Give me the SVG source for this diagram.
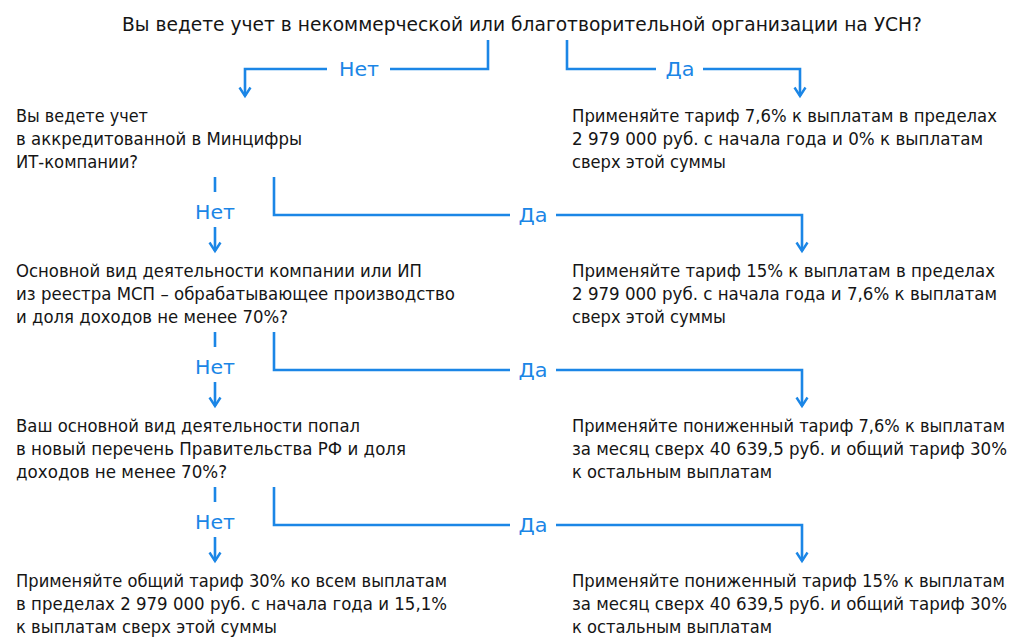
<svg xmlns="http://www.w3.org/2000/svg" width="1024" height="643" viewBox="0 0 1024 643">
<style>
  .t { font-family: "DejaVu Sans", "Noto Sans", sans-serif; font-size: 17px; fill: #151515; }
  .title { font-family: "DejaVu Sans", "Noto Sans", sans-serif; font-size: 19.5px; fill: #151515; }
  .lbl { font-family: "DejaVu Sans", "Noto Sans", sans-serif; font-size: 19px; fill: #1b86e6; text-anchor: middle; }
  .c { fill: none; stroke: #1b86e6; stroke-width: 2.6; stroke-linejoin: miter; stroke-linecap: butt; }
</style>
<defs>
  <marker id="arr" markerWidth="14" markerHeight="14" refX="11" refY="7" orient="auto" markerUnits="userSpaceOnUse" viewBox="0 0 14 14">
    <path d="M2.5,1.5 L11,7 L2.5,12.5" fill="none" stroke="#1b86e6" stroke-width="2.4"/>
  </marker>
</defs>
<rect width="1024" height="643" fill="#ffffff"/>

<g id="q0">
  <text class="title" x="122" y="31" textLength="800" lengthAdjust="spacingAndGlyphs">Вы ведете учет в некоммерческой или благотворительной организации на УСН?</text>
</g>

<g id="connectors">
  <!-- Level 1 -->
  <polyline class="c" points="488,40 488,69 390,69"/>
  <polyline class="c" points="327,69 245,69 245,96" marker-end="url(#arr)"/>
  <polyline class="c" points="567,40 567,69 656,69"/>
  <polyline class="c" points="703,69 800,69 800,96" marker-end="url(#arr)"/>
  <!-- Level 2 -->
  <line class="c" x1="215" y1="177" x2="215" y2="192"/>
  <line class="c" x1="215" y1="227" x2="215" y2="251" marker-end="url(#arr)"/>
  <polyline class="c" points="274,177 274,215 510,215"/>
  <polyline class="c" points="556,215 802,215 802,251" marker-end="url(#arr)"/>
  <!-- Level 3 -->
  <line class="c" x1="215" y1="332" x2="215" y2="347"/>
  <line class="c" x1="215" y1="382" x2="215" y2="406" marker-end="url(#arr)"/>
  <polyline class="c" points="274,332 274,370 510,370"/>
  <polyline class="c" points="556,370 802,370 802,406" marker-end="url(#arr)"/>
  <!-- Level 4 -->
  <line class="c" x1="215" y1="487" x2="215" y2="502"/>
  <line class="c" x1="215" y1="537" x2="215" y2="561" marker-end="url(#arr)"/>
  <polyline class="c" points="274,487 274,525 510,525"/>
  <polyline class="c" points="556,525 802,525 802,561" marker-end="url(#arr)"/>

  <text class="lbl" x="359" y="76" textLength="40" lengthAdjust="spacingAndGlyphs">Нет</text>
  <text class="lbl" x="680" y="76" textLength="29" lengthAdjust="spacingAndGlyphs">Да</text>
  <text class="lbl" x="215" y="219" textLength="40" lengthAdjust="spacingAndGlyphs">Нет</text>
  <text class="lbl" x="533" y="222" textLength="29" lengthAdjust="spacingAndGlyphs">Да</text>
  <text class="lbl" x="215" y="374" textLength="40" lengthAdjust="spacingAndGlyphs">Нет</text>
  <text class="lbl" x="533" y="377" textLength="29" lengthAdjust="spacingAndGlyphs">Да</text>
  <text class="lbl" x="215" y="529" textLength="40" lengthAdjust="spacingAndGlyphs">Нет</text>
  <text class="lbl" x="533" y="532" textLength="29" lengthAdjust="spacingAndGlyphs">Да</text>
</g>

<g id="q1">
  <text class="t" x="16" y="122" textLength="132" lengthAdjust="spacingAndGlyphs">Вы ведете учет</text>
  <text class="t" x="16" y="145" textLength="286" lengthAdjust="spacingAndGlyphs">в аккредитованной в Минцифры</text>
  <text class="t" x="16" y="168" textLength="122" lengthAdjust="spacingAndGlyphs">ИТ-компании?</text>
</g>
<g id="a1">
  <text class="t" x="572" y="122" textLength="425" lengthAdjust="spacingAndGlyphs">Применяйте тариф 7,6% к выплатам в пределах</text>
  <text class="t" x="572" y="145" textLength="411" lengthAdjust="spacingAndGlyphs">2 979 000 руб. с начала года и 0% к выплатам</text>
  <text class="t" x="572" y="168" textLength="154" lengthAdjust="spacingAndGlyphs">сверх этой суммы</text>
</g>

<g id="q2">
  <text class="t" x="16" y="277" textLength="406" lengthAdjust="spacingAndGlyphs">Основной вид деятельности компании или ИП</text>
  <text class="t" x="16" y="300" textLength="439" lengthAdjust="spacingAndGlyphs">из реестра МСП – обрабатывающее производство</text>
  <text class="t" x="16" y="323" textLength="272" lengthAdjust="spacingAndGlyphs">и доля доходов не менее 70%?</text>
</g>
<g id="a2">
  <text class="t" x="572" y="277" textLength="423" lengthAdjust="spacingAndGlyphs">Применяйте тариф 15% к выплатам в пределах</text>
  <text class="t" x="572" y="300" textLength="425" lengthAdjust="spacingAndGlyphs">2 979 000 руб. с начала года и 7,6% к выплатам</text>
  <text class="t" x="572" y="323" textLength="154" lengthAdjust="spacingAndGlyphs">сверх этой суммы</text>
</g>

<g id="q3">
  <text class="t" x="16" y="432" textLength="344" lengthAdjust="spacingAndGlyphs">Ваш основной вид деятельности попал</text>
  <text class="t" x="16" y="455" textLength="390" lengthAdjust="spacingAndGlyphs">в новый перечень Правительства РФ и доля</text>
  <text class="t" x="16" y="478" textLength="211" lengthAdjust="spacingAndGlyphs">доходов не менее 70%?</text>
</g>
<g id="a3">
  <text class="t" x="572" y="432" textLength="433" lengthAdjust="spacingAndGlyphs">Применяйте пониженный тариф 7,6% к выплатам</text>
  <text class="t" x="572" y="455" textLength="435" lengthAdjust="spacingAndGlyphs">за месяц сверх 40 639,5 руб. и общий тариф 30%</text>
  <text class="t" x="572" y="478" textLength="200" lengthAdjust="spacingAndGlyphs">к остальным выплатам</text>
</g>

<g id="q4">
  <text class="t" x="16" y="587" textLength="431" lengthAdjust="spacingAndGlyphs">Применяйте общий тариф 30% ко всем выплатам</text>
  <text class="t" x="16" y="610" textLength="431" lengthAdjust="spacingAndGlyphs">в пределах 2 979 000 руб. с начала года и 15,1%</text>
  <text class="t" x="16" y="633" textLength="261" lengthAdjust="spacingAndGlyphs">к выплатам сверх этой суммы</text>
</g>
<g id="a4">
  <text class="t" x="572" y="587" textLength="433" lengthAdjust="spacingAndGlyphs">Применяйте пониженный тариф 15% к выплатам</text>
  <text class="t" x="572" y="610" textLength="435" lengthAdjust="spacingAndGlyphs">за месяц сверх 40 639,5 руб. и общий тариф 30%</text>
  <text class="t" x="572" y="633" textLength="200" lengthAdjust="spacingAndGlyphs">к остальным выплатам</text>
</g>
</svg>
